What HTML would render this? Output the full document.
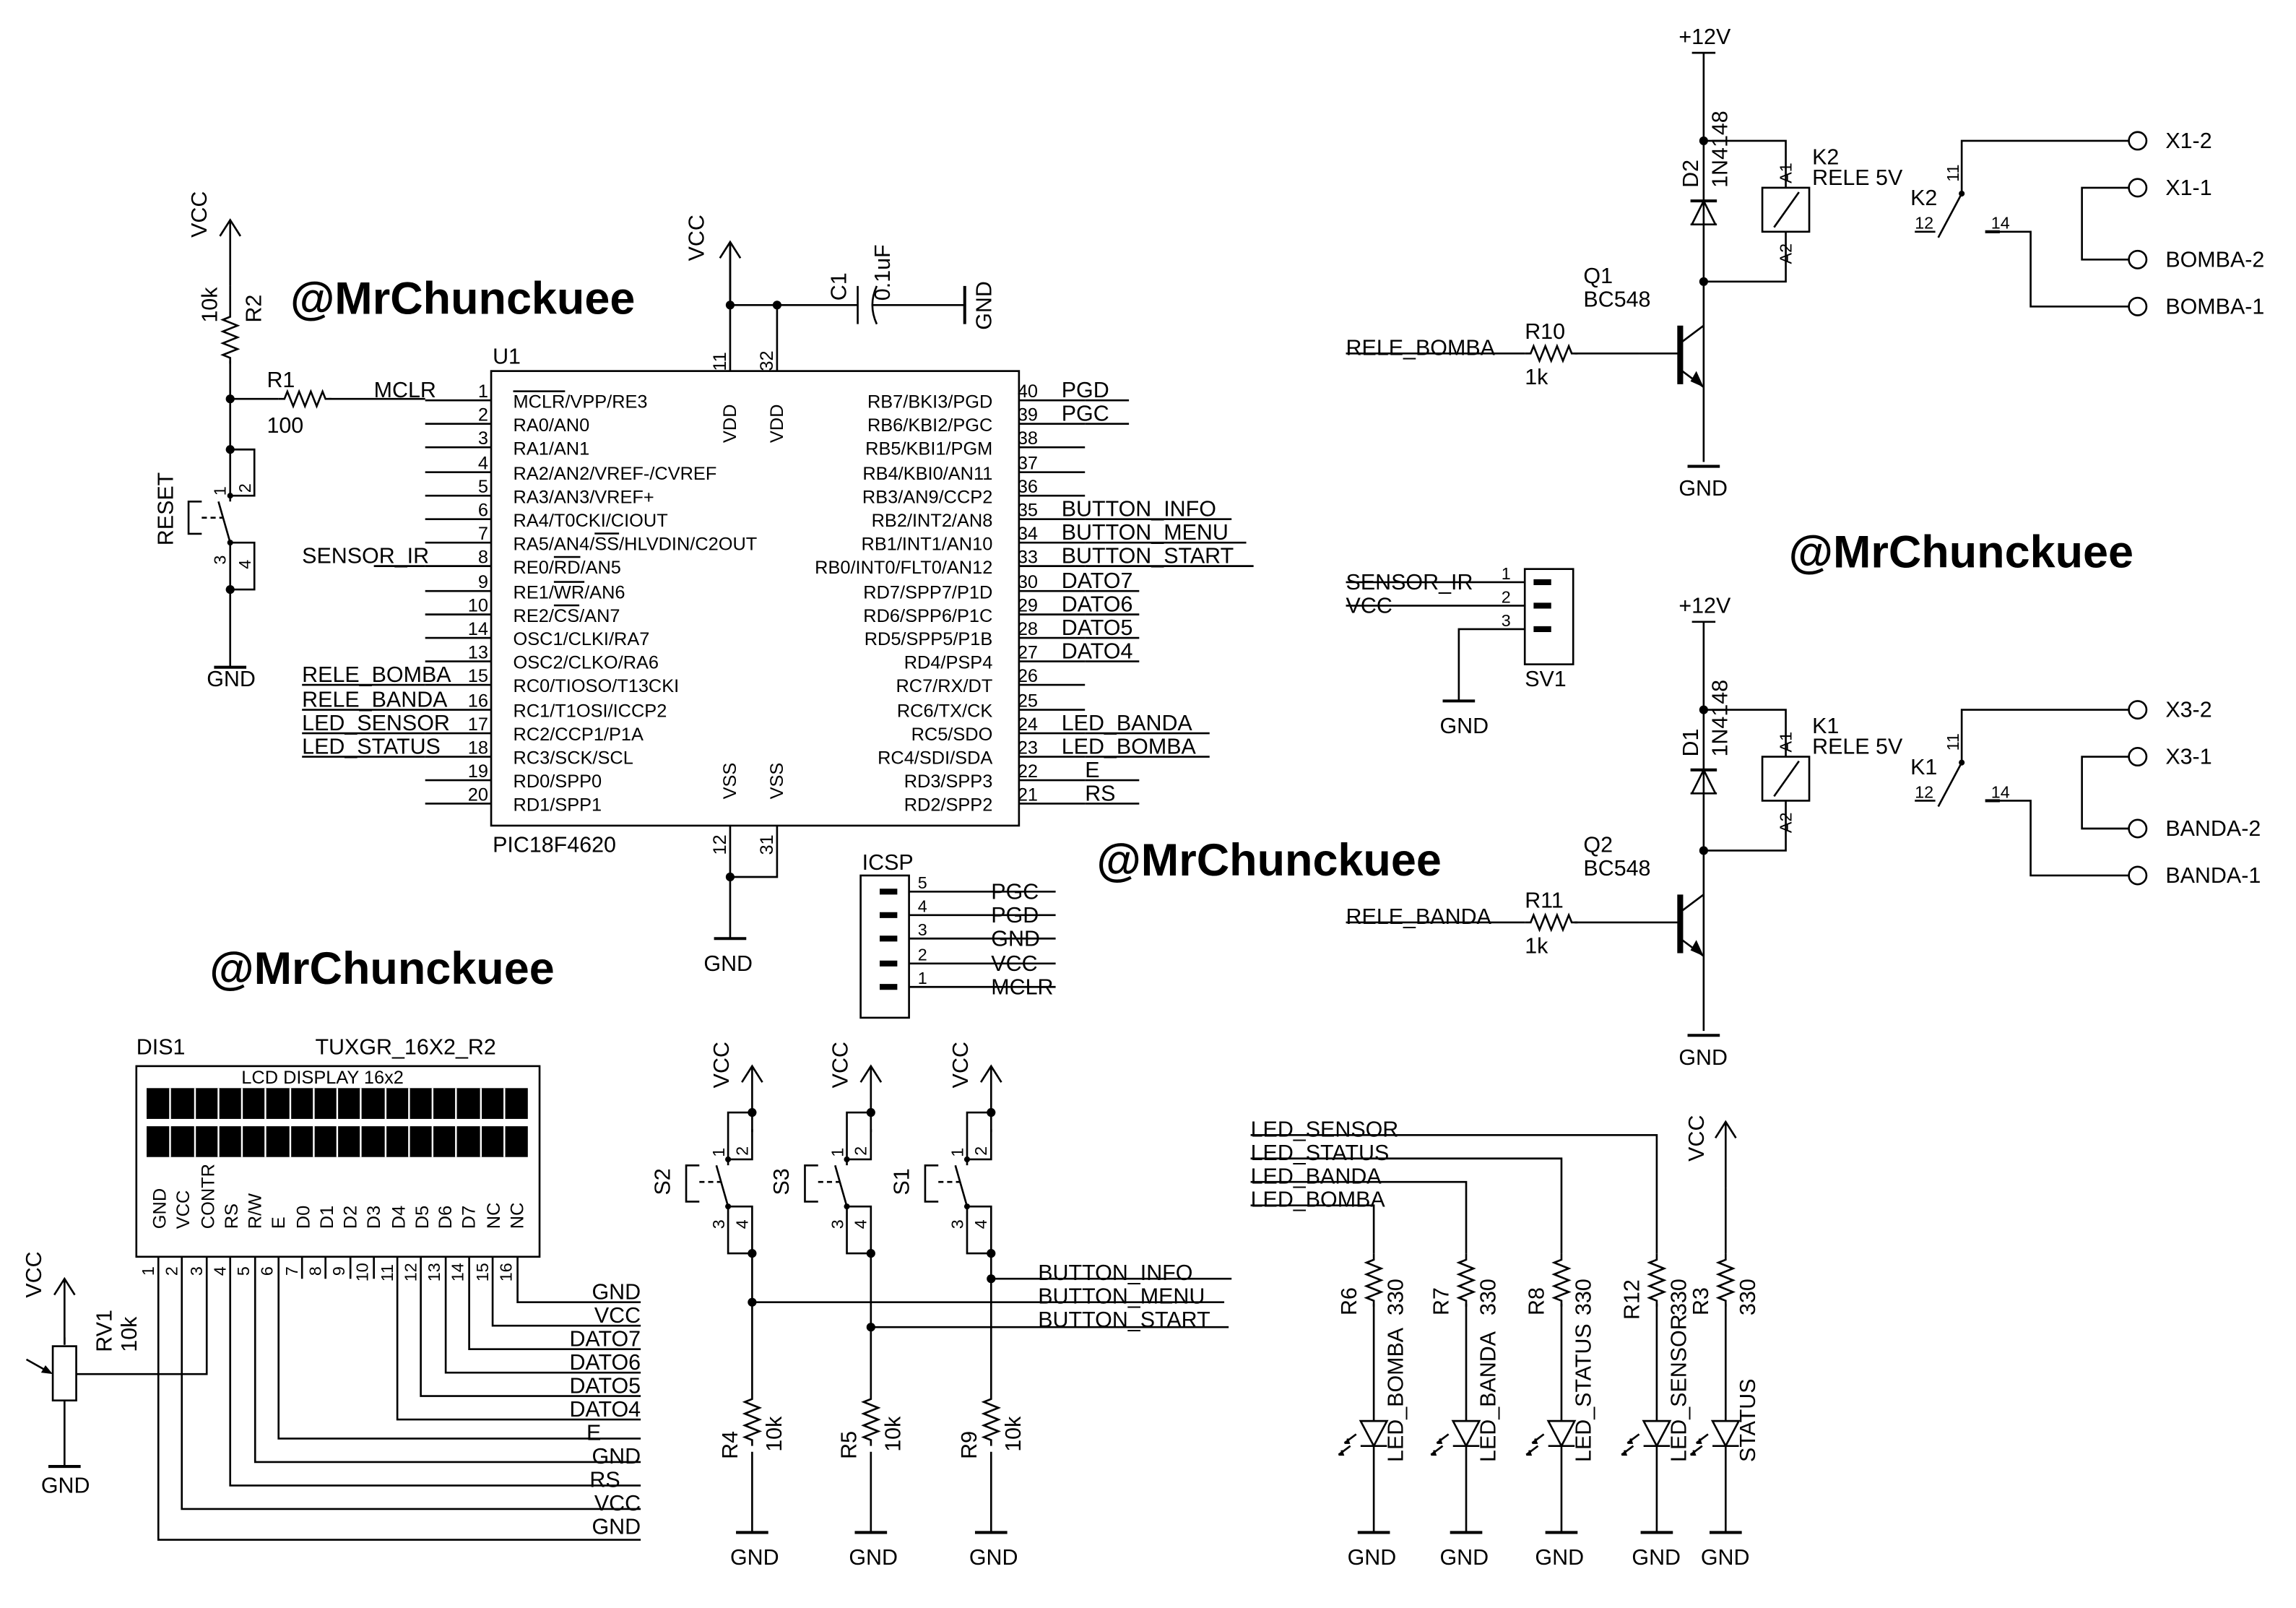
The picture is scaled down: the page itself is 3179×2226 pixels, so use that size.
<!DOCTYPE html>
<html><head><meta charset="utf-8"><style>
html,body{margin:0;padding:0;background:#fff;}
svg{display:block;}
text{font-family:"Liberation Sans",Arial,sans-serif;fill:#000;}
.w{stroke:#000;stroke-width:1.3;fill:none;}
.t{font-size:15px;}
.s{font-size:12.5px;}
.p{font-size:11.5px;}
.wm{font-size:31px;font-weight:bold;}
</style></head><body>
<svg width="3179" height="2226" viewBox="0 0 1566 1096.5" xmlns="http://www.w3.org/2000/svg">
<defs>
<path id="rv" d="M0,0v4l-5,2l10,4l-10,4l10,4l-10,4l10,4l-10,4l5,2v4" class="w"/>
<path id="rh" d="M0,0h4l2,-5l4,10l4,-10l4,10l4,-10l4,10l4,-10l2,5h4" class="w"/>
<path id="vcc" d="M0,0v45M-7,11L0,0L7,11" class="w"/>
<path id="gnd" d="M-11,0h22" stroke="#000" stroke-width="2" fill="none"/>
<circle id="dot" r="3" fill="#000"/>
<circle id="sdot" r="2" fill="#000"/>
</defs>

<!-- watermarks -->
<text class="wm" x="198" y="214">@MrChunckuee</text>
<text class="wm" x="1220" y="387">@MrChunckuee</text>
<text class="wm" x="748" y="597">@MrChunckuee</text>
<text class="wm" x="143" y="671">@MrChunckuee</text>

<!-- PIC -->
<rect x="335" y="253" width="360" height="310" class="w"/>
<text class="t" x="336" y="248">U1</text>
<text class="t" x="336" y="581">PIC18F4620</text>
<path class="w" d="M290,273h45M290,289h45M290,305h45M290,322h45M290,338h45M290,354h45M290,370h45M290,386h45M290,403h45M290,419h45M290,435h45M290,451h45M290,467h45M290,484h45M290,500h45M290,516h45M290,532h45M290,548h45"/>
<path class="w" d="M695,273h45M695,289h45M695,305h45M695,322h45M695,338h45M695,354h45M695,370h45M695,386h45M695,403h45M695,419h45M695,435h45M695,451h45M695,467h45M695,484h45M695,500h45M695,516h45M695,532h45M695,548h45"/>
<g class="s" text-anchor="end">
<text x="333" y="271">1</text><text x="333" y="287">2</text><text x="333" y="303">3</text><text x="333" y="320">4</text><text x="333" y="336">5</text><text x="333" y="352">6</text><text x="333" y="368">7</text><text x="333" y="384">8</text><text x="333" y="401">9</text><text x="333" y="417">10</text><text x="333" y="433">14</text><text x="333" y="449">13</text><text x="333" y="465">15</text><text x="333" y="482">16</text><text x="333" y="498">17</text><text x="333" y="514">18</text><text x="333" y="530">19</text><text x="333" y="546">20</text>
</g>
<g class="s">
<text x="694" y="271">40</text><text x="694" y="287">39</text><text x="694" y="303">38</text><text x="694" y="320">37</text><text x="694" y="336">36</text><text x="694" y="352">35</text><text x="694" y="368">34</text><text x="694" y="384">33</text><text x="694" y="401">30</text><text x="694" y="417">29</text><text x="694" y="433">28</text><text x="694" y="449">27</text><text x="694" y="465">26</text><text x="694" y="482">25</text><text x="694" y="498">24</text><text x="694" y="514">23</text><text x="694" y="530">22</text><text x="694" y="546">21</text>
</g>
<g class="s">
<text x="350" y="278"><tspan text-decoration="overline">MCLR</tspan>/VPP/RE3</text>
<text x="350" y="294">RA0/AN0</text><text x="350" y="310">RA1/AN1</text>
<text x="350" y="327">RA2/AN2/VREF-/CVREF</text><text x="350" y="343">RA3/AN3/VREF+</text>
<text x="350" y="359">RA4/T0CKI/CIOUT</text><text x="350" y="375">RA5/AN4/<tspan text-decoration="overline">SS</tspan>/HLVDIN/C2OUT</text>
<text x="350" y="391">RE0/<tspan text-decoration="overline">RD</tspan>/AN5</text><text x="350" y="408">RE1/<tspan text-decoration="overline">WR</tspan>/AN6</text>
<text x="350" y="424">RE2/<tspan text-decoration="overline">CS</tspan>/AN7</text><text x="350" y="440">OSC1/CLKI/RA7</text>
<text x="350" y="456">OSC2/CLKO/RA6</text><text x="350" y="472">RC0/TIOSO/T13CKI</text>
<text x="350" y="489">RC1/T1OSI/ICCP2</text><text x="350" y="505">RC2/CCP1/P1A</text>
<text x="350" y="521">RC3/SCK/SCL</text><text x="350" y="537">RD0/SPP0</text><text x="350" y="553">RD1/SPP1</text>
</g>
<g class="s" text-anchor="end">
<text x="677" y="278">RB7/BKI3/PGD</text><text x="677" y="294">RB6/KBI2/PGC</text><text x="677" y="310">RB5/KBI1/PGM</text><text x="677" y="327">RB4/KBI0/AN11</text><text x="677" y="343">RB3/AN9/CCP2</text><text x="677" y="359">RB2/INT2/AN8</text><text x="677" y="375">RB1/INT1/AN10</text><text x="677" y="391">RB0/INT0/FLT0/AN12</text><text x="677" y="408">RD7/SPP7/P1D</text><text x="677" y="424">RD6/SPP6/P1C</text><text x="677" y="440">RD5/SPP5/P1B</text><text x="677" y="456">RD4/PSP4</text><text x="677" y="472">RC7/RX/DT</text><text x="677" y="489">RC6/TX/CK</text><text x="677" y="505">RC5/SDO</text><text x="677" y="521">RC4/SDI/SDA</text><text x="677" y="537">RD3/SPP3</text><text x="677" y="553">RD2/SPP2</text>
</g>
<!-- VDD/VSS -->
<path class="w" d="M498,165v88M530,208v45M498,208h87M498,563v35h32v-35M498,598v42"/>
<use href="#vcc" x="498" y="165"/>
<use href="#dot" x="498" y="208"/><use href="#dot" x="530" y="208"/><use href="#dot" x="498" y="598"/>
<use href="#gnd" x="498" y="640"/>
<text class="t" x="480" y="662">GND</text>
<g class="s">
<text transform="translate(495,253) rotate(-90)">11</text><text transform="translate(527,253) rotate(-90)">32</text>
<text transform="translate(495,583) rotate(-90)">12</text><text transform="translate(527,583) rotate(-90)">31</text>
<text transform="translate(502,302) rotate(-90)">VDD</text><text transform="translate(534,302) rotate(-90)">VDD</text>
<text transform="translate(502,545) rotate(-90)">VSS</text><text transform="translate(534,545) rotate(-90)">VSS</text>
</g>
<text class="t" transform="translate(480,178) rotate(-90)">VCC</text>
<!-- C1 -->
<path class="w" d="M585,195v26M598,195q-6,13 0,26M595,208h63"/>
<path d="M658,195v26" stroke="#000" stroke-width="2"/>
<text class="t" transform="translate(577,205) rotate(-90)">C1</text>
<text class="t" transform="translate(607,205) rotate(-90)">0.1uF</text>
<text class="t" transform="translate(676,225) rotate(-90)">GND</text>

<!-- PIC nets -->
<g class="t">
<text x="724" y="271">PGD</text><text x="724" y="287">PGC</text>
<text x="724" y="352">BUTTON_INFO</text><text x="724" y="368">BUTTON_MENU</text><text x="724" y="384">BUTTON_START</text>
<text x="724" y="401">DATO7</text><text x="724" y="417">DATO6</text><text x="724" y="433">DATO5</text><text x="724" y="449">DATO4</text>
<text x="724" y="498">LED_BANDA</text><text x="724" y="514">LED_BOMBA</text><text x="740" y="530">E</text><text x="740" y="546">RS</text>
<text x="255" y="271">MCLR</text><text x="206" y="384">SENSOR_IR</text>
<text x="206" y="465">RELE_BOMBA</text><text x="206" y="482">RELE_BANDA</text><text x="206" y="498">LED_SENSOR</text><text x="206" y="514">LED_STATUS</text>
</g>
<path class="w" d="M740,273h30M740,289h30M740,354h100M740,370h110M740,386h115M740,403h37M740,419h37M740,435h37M740,451h37M740,500h85M740,516h85M740,532h37M740,548h37M255,386h35M206,467h84M206,484h84M206,500h84M206,516h84"/>

<!-- reset -->
<use href="#vcc" x="157" y="150"/>
<text class="t" transform="translate(141,162) rotate(-90)">VCC</text>
<path class="w" d="M157,195v17M157,246v92M157,272h33M224,272h66"/>
<use href="#rv" x="157" y="212"/>
<use href="#rh" x="190" y="272"/>
<text class="t" transform="translate(148,220) rotate(-90)">10k</text>
<text class="t" transform="translate(178,220) rotate(-90)">R2</text>
<text class="t" x="182" y="264">R1</text><text class="t" x="182" y="295">100</text>
<use href="#dot" x="157" y="272"/>
<path class="w" d="M157,306.5h16.5v31.5h-16.5M157,338v4M149,342L157,370M157,370h16.5v32h-16.5M157,370v85M137.6,342h-9v22h9"/>
<path d="M137.6,353h15" stroke="#000" stroke-width="1.3" stroke-dasharray="3.5,2.5" fill="none"/>
<use href="#dot" x="157" y="306.5"/><use href="#sdot" x="157" y="338"/><use href="#sdot" x="157" y="370"/><use href="#dot" x="157" y="402"/>
<use href="#gnd" x="157" y="455"/>
<text class="t" x="141" y="468">GND</text>
<text class="p" transform="translate(154,338) rotate(-90)">1</text><text class="p" transform="translate(171,336) rotate(-90)">2</text>
<text class="p" transform="translate(154,385) rotate(-90)">3</text><text class="p" transform="translate(171,388) rotate(-90)">4</text>
<text class="t" transform="translate(118,372) rotate(-90)">RESET</text>

<!-- ICSP -->
<text class="t" x="588" y="593">ICSP</text>
<rect x="587" y="597" width="33" height="97" class="w" stroke-width="2"/>
<path class="w" d="M620,608h100M620,624h100M620,640h100M620,657h100M620,673h100"/>
<g stroke="#000" stroke-width="4"><path d="M600,608h12M600,624h12M600,640h12M600,657h12M600,673h12"/></g>
<g class="p"><text x="626" y="606">5</text><text x="626" y="622">4</text><text x="626" y="638">3</text><text x="626" y="655">2</text><text x="626" y="671">1</text></g>
<g class="t"><text x="676" y="613">PGC</text><text x="676" y="629">PGD</text><text x="676" y="645">GND</text><text x="676" y="662">VCC</text><text x="676" y="678">MCLR</text></g>

<!-- SV1 -->
<rect x="1040" y="388" width="33" height="65" class="w" stroke-width="2"/>
<path class="w" d="M918,397h122M918,413h122M1040,429h-45v49"/>
<g stroke="#000" stroke-width="4"><path d="M1046,397h12M1046,413h12M1046,429h12"/></g>
<g class="p"><text x="1024" y="395">1</text><text x="1024" y="411">2</text><text x="1024" y="427">3</text></g>
<text class="t" x="918" y="402">SENSOR_IR</text><text class="t" x="918" y="418">VCC</text>
<use href="#gnd" x="995" y="478"/><text class="t" x="982" y="500">GND</text>
<text class="t" x="1040" y="468">SV1</text>

<!-- relay circuits -->
<g id="relay">
<text class="t" x="1145" y="30">+12V</text>
<path class="w" d="M1154,36h16M1162,36v279M1162,96h56v32M1218,158v34h-56M1146,241h-28M1162,222l-16,12M1146,252l16,12"/>
<path d="M1146,222v40" stroke="#000" stroke-width="4"/>
<path d="M1162,264l-9,-4l4,-7z" fill="#000"/>
<rect x="1202" y="128" width="32" height="30" class="w" stroke-width="2"/>
<path class="w" d="M1210,155l17,-24"/>
<path class="w" d="M1153,153h18M1154,153l8,-16l8,16z"/>
<path d="M1153,137h18" stroke="#000" stroke-width="2"/>
<use href="#dot" x="1162" y="96"/><use href="#dot" x="1162" y="192"/>
<use href="#gnd" x="1162" y="318"/>
<text class="t" x="1145" y="338">GND</text>
<text class="t" transform="translate(1158,128) rotate(-90)">D2</text>
<text class="t" transform="translate(1178,128) rotate(-90)">1N4148</text>
<text class="p" transform="translate(1222,125) rotate(-90)">A1</text>
<text class="p" transform="translate(1222,180) rotate(-90)">A2</text>
<text class="t" x="1236" y="112">K2</text><text class="t" x="1236" y="126">RELE 5V</text>
<text class="t" x="1080" y="193">Q1</text><text class="t" x="1080" y="209">BC548</text>
<text class="t" x="918" y="242">RELE_BOMBA</text>
<path class="w" d="M918,241h122M1074,241h44"/>
<use href="#rh" x="1040" y="241"/>
<text class="t" x="1040" y="231">R10</text><text class="t" x="1040" y="262">1k</text>
<text class="t" x="1303" y="140">K2</text>
<text class="p" transform="translate(1336,124) rotate(-90)">11</text>
<text class="p" x="1306" y="156">12</text><text class="p" x="1358" y="156">14</text>
<path class="w" d="M1452,96h-114v36M1338,132l-16,30M1306,158h14M1355,158h30v51h67M1452,128h-32v49h32"/>
<circle cx="1338" cy="132" r="2" fill="#000"/>
<path d="M1354,158h10" stroke="#000" stroke-width="2"/>
<circle cx="1458" cy="96" r="6" class="w" stroke-width="2" fill="#fff"/>
<circle cx="1458" cy="128" r="6" class="w" stroke-width="2" fill="#fff"/>
<circle cx="1458" cy="177" r="6" class="w" stroke-width="2" fill="#fff"/>
<circle cx="1458" cy="209" r="6" class="w" stroke-width="2" fill="#fff"/>
<text class="t" x="1477" y="101">X1-2</text><text class="t" x="1477" y="133">X1-1</text>
<text class="t" x="1477" y="182">BOMBA-2</text><text class="t" x="1477" y="214">BOMBA-1</text>
</g>
<g transform="translate(0,388)">
<text class="t" x="1145" y="30">+12V</text>
<path class="w" d="M1154,36h16M1162,36v279M1162,96h56v32M1218,158v34h-56M1146,241h-28M1162,222l-16,12M1146,252l16,12"/>
<path d="M1146,222v40" stroke="#000" stroke-width="4"/>
<path d="M1162,264l-9,-4l4,-7z" fill="#000"/>
<rect x="1202" y="128" width="32" height="30" class="w" stroke-width="2"/>
<path class="w" d="M1210,155l17,-24"/>
<path class="w" d="M1153,153h18M1154,153l8,-16l8,16z"/>
<path d="M1153,137h18" stroke="#000" stroke-width="2"/>
<use href="#dot" x="1162" y="96"/><use href="#dot" x="1162" y="192"/>
<use href="#gnd" x="1162" y="318"/>
<text class="t" x="1145" y="338">GND</text>
<text class="t" transform="translate(1158,128) rotate(-90)">D1</text>
<text class="t" transform="translate(1178,128) rotate(-90)">1N4148</text>
<text class="p" transform="translate(1222,125) rotate(-90)">A1</text>
<text class="p" transform="translate(1222,180) rotate(-90)">A2</text>
<text class="t" x="1236" y="112">K1</text><text class="t" x="1236" y="126">RELE 5V</text>
<text class="t" x="1080" y="193">Q2</text><text class="t" x="1080" y="209">BC548</text>
<text class="t" x="918" y="242">RELE_BANDA</text>
<path class="w" d="M918,241h122M1074,241h44"/>
<use href="#rh" x="1040" y="241"/>
<text class="t" x="1040" y="231">R11</text><text class="t" x="1040" y="262">1k</text>
<text class="t" x="1303" y="140">K1</text>
<text class="p" transform="translate(1336,124) rotate(-90)">11</text>
<text class="p" x="1306" y="156">12</text><text class="p" x="1358" y="156">14</text>
<path class="w" d="M1452,96h-114v36M1338,132l-16,30M1306,158h14M1355,158h30v51h67M1452,128h-32v49h32"/>
<circle cx="1338" cy="132" r="2" fill="#000"/>
<path d="M1354,158h10" stroke="#000" stroke-width="2"/>
<circle cx="1458" cy="96" r="6" class="w" stroke-width="2" fill="#fff"/>
<circle cx="1458" cy="128" r="6" class="w" stroke-width="2" fill="#fff"/>
<circle cx="1458" cy="177" r="6" class="w" stroke-width="2" fill="#fff"/>
<circle cx="1458" cy="209" r="6" class="w" stroke-width="2" fill="#fff"/>
<text class="t" x="1477" y="101">X3-2</text><text class="t" x="1477" y="133">X3-1</text>
<text class="t" x="1477" y="182">BANDA-2</text><text class="t" x="1477" y="214">BANDA-1</text>
</g>

<!-- LCD -->
<text class="t" x="93" y="719">DIS1</text><text class="t" x="215" y="719">TUXGR_16X2_R2</text>
<rect x="93" y="727" width="275" height="130" class="w" stroke-width="1.6"/>
<text class="s" x="220" y="739" text-anchor="middle">LCD DISPLAY 16x2</text>
<rect x="100" y="742" width="260" height="21" fill="#000"/>
<rect x="100" y="768" width="260" height="21" fill="#000"/>
<path stroke="#fff" stroke-width="1.2" d="M116,742v47M133,742v47M149,742v47M165,742v47M181,742v47M198,742v47M214,742v47M230,742v47M246,742v47M263,742v47M279,742v47M295,742v47M311,742v47M328,742v47M344,742v47"/>
<g class="s">
<text transform="translate(113,838) rotate(-90)">GND</text><text transform="translate(129,838) rotate(-90)">VCC</text><text transform="translate(146,838) rotate(-90)">CONTR</text><text transform="translate(162,838) rotate(-90)">RS</text><text transform="translate(178,838) rotate(-90)">R/W</text><text transform="translate(194,838) rotate(-90)">E</text><text transform="translate(211,838) rotate(-90)">D0</text><text transform="translate(227,838) rotate(-90)">D1</text><text transform="translate(243,838) rotate(-90)">D2</text><text transform="translate(259,838) rotate(-90)">D3</text><text transform="translate(276,838) rotate(-90)">D4</text><text transform="translate(292,838) rotate(-90)">D5</text><text transform="translate(308,838) rotate(-90)">D6</text><text transform="translate(324,838) rotate(-90)">D7</text><text transform="translate(341,838) rotate(-90)">NC</text><text transform="translate(357,838) rotate(-90)">NC</text>
</g>
<g class="p">
<text transform="translate(105,870) rotate(-90)">1</text><text transform="translate(121,870) rotate(-90)">2</text><text transform="translate(138,870) rotate(-90)">3</text><text transform="translate(154,870) rotate(-90)">4</text><text transform="translate(170,870) rotate(-90)">5</text><text transform="translate(186,870) rotate(-90)">6</text><text transform="translate(203,870) rotate(-90)">7</text><text transform="translate(219,870) rotate(-90)">8</text><text transform="translate(235,870) rotate(-90)">9</text><text transform="translate(251,874) rotate(-90)">10</text><text transform="translate(268,874) rotate(-90)">11</text><text transform="translate(284,874) rotate(-90)">12</text><text transform="translate(300,874) rotate(-90)">13</text><text transform="translate(316,874) rotate(-90)">14</text><text transform="translate(333,874) rotate(-90)">15</text><text transform="translate(349,874) rotate(-90)">16</text>
</g>
<path class="w" d="M108,857v193h329M124,857v172h313M141,857v80h-89M157,857v156h280M174,857v140h263M190,857v124h247M206,857v15M222,857v15M239,857v15M255,857v15M271,857v111h166M287,857v95h150M304,857v79h133M320,857v63h117M336,857v47h101M353,857v31h84"/>
<g class="t" text-anchor="end">
<text x="437" y="886">GND</text><text x="437" y="902">VCC</text><text x="437" y="918">DATO7</text><text x="437" y="934">DATO6</text><text x="437" y="950">DATO5</text><text x="437" y="966">DATO4</text><text x="410" y="982">E</text><text x="437" y="998">GND</text><text x="423" y="1014">RS</text><text x="437" y="1030">VCC</text><text x="437" y="1046">GND</text>
</g>
<!-- RV1 -->
<use href="#vcc" x="44" y="872"/>
<text class="t" transform="translate(28,885) rotate(-90)">VCC</text>
<path class="w" d="M44,917v-5M44,955v45M18,927L34,936"/>
<path d="M36,937l-8,-1l3,-5z" fill="#000"/>
<rect x="36" y="918" width="16" height="37" class="w" stroke-width="1.6"/>
<use href="#gnd" x="44" y="1000"/>
<text class="t" x="28" y="1018">GND</text>
<text class="t" transform="translate(76,922) rotate(-90)">RV1</text>
<text class="t" transform="translate(93,922) rotate(-90)">10k</text>

<!-- buttons -->
<g id="btn">
<use href="#vcc" x="513" y="727"/>
<path class="w" d="M513,770V790.6H496.6V758.6H513M496.6,790.6v4M488.6,794.7L496.6,822.7M513,1045V822.7H496.6V854.7H513M477,794.7h-9v24.7h9"/>
<path d="M477,806h15" stroke="#000" stroke-width="1.3" stroke-dasharray="3.5,2.5" fill="none"/>
<use href="#dot" x="513" y="758.6"/><use href="#sdot" x="496.6" y="790.6"/><use href="#sdot" x="496.6" y="822.7"/><use href="#dot" x="513" y="854.7"/>
<text class="p" transform="translate(494,789) rotate(-90)">1</text><text class="p" transform="translate(510,788) rotate(-90)">2</text>
<text class="p" transform="translate(494,838) rotate(-90)">3</text><text class="p" transform="translate(510,838) rotate(-90)">4</text>
<use href="#gnd" x="513" y="1045"/>
<rect x="507" y="950" width="12" height="40" fill="#fff"/>
<use href="#rv" x="513" y="950"/>
</g>
<use href="#btn" x="81"/><use href="#btn" x="163"/>
<g class="t">
<text transform="translate(497,742) rotate(-90)">VCC</text><text transform="translate(578,742) rotate(-90)">VCC</text><text transform="translate(660,742) rotate(-90)">VCC</text>
<text transform="translate(457,815) rotate(-90)">S2</text><text transform="translate(538,815) rotate(-90)">S3</text><text transform="translate(620,815) rotate(-90)">S1</text>
<text transform="translate(503,995) rotate(-90)">R4</text><text transform="translate(584,995) rotate(-90)">R5</text><text transform="translate(666,995) rotate(-90)">R9</text>
<text transform="translate(533,990) rotate(-90)">10k</text><text transform="translate(614,990) rotate(-90)">10k</text><text transform="translate(696,990) rotate(-90)">10k</text>
<text x="498" y="1067">GND</text><text x="579" y="1067">GND</text><text x="661" y="1067">GND</text>
<text x="708" y="873">BUTTON_INFO</text><text x="708" y="889">BUTTON_MENU</text><text x="708" y="905">BUTTON_START</text>
</g>
<path class="w" d="M676,872h164M513,888h322M594,905h244"/>
<use href="#dot" x="676" y="872"/><use href="#dot" x="513" y="888"/><use href="#dot" x="594" y="905"/>

<!-- LEDs -->
<g class="t">
<text x="853" y="775">LED_SENSOR</text><text x="853" y="791">LED_STATUS</text><text x="853" y="807">LED_BANDA</text><text x="853" y="823">LED_BOMBA</text>
</g>
<path class="w" d="M853,774h277v81M853,790h212v65M853,806h147v49M853,822h84v33"/>
<use href="#vcc" x="1177" y="765"/>
<text class="t" transform="translate(1162,792) rotate(-90)">VCC</text>
<path class="w" d="M1177,810v45"/>
<g id="led">
<use href="#rv" x="937" y="855"/>
<path class="w" d="M937,889v80M928,969h18l-9,17zM928,986h18M937,986v59"/>
<path class="w" d="M925,978l-8,6M921,986l-8,6M917,984l3,0l-1,-3M913,992l3,0l-1,-3"/>
<use href="#gnd" x="937" y="1045"/>
</g>
<use href="#led" x="63"/><use href="#led" x="128"/><use href="#led" x="193"/><use href="#led" x="240"/>
<g class="t">
<text x="919" y="1067">GND</text><text x="982" y="1067">GND</text><text x="1047" y="1067">GND</text><text x="1113" y="1067">GND</text><text x="1160" y="1067">GND</text>
<text transform="translate(925,897) rotate(-90)">R6</text><text transform="translate(988,897) rotate(-90)">R7</text><text transform="translate(1053,897) rotate(-90)">R8</text><text transform="translate(1118,900) rotate(-90)">R12</text><text transform="translate(1165,897) rotate(-90)">R3</text>
<text transform="translate(957,897) rotate(-90)">330</text><text transform="translate(1020,897) rotate(-90)">330</text><text transform="translate(1085,897) rotate(-90)">330</text><text transform="translate(1150,897) rotate(-90)">330</text><text transform="translate(1197,897) rotate(-90)">330</text>
<text transform="translate(957,997) rotate(-90)">LED_BOMBA</text><text transform="translate(1020,997) rotate(-90)">LED_BANDA</text><text transform="translate(1085,997) rotate(-90)">LED_STATUS</text><text transform="translate(1150,997) rotate(-90)">LED_SENSOR</text><text transform="translate(1197,997) rotate(-90)">STATUS</text>
</g>
</svg>
</body></html>
